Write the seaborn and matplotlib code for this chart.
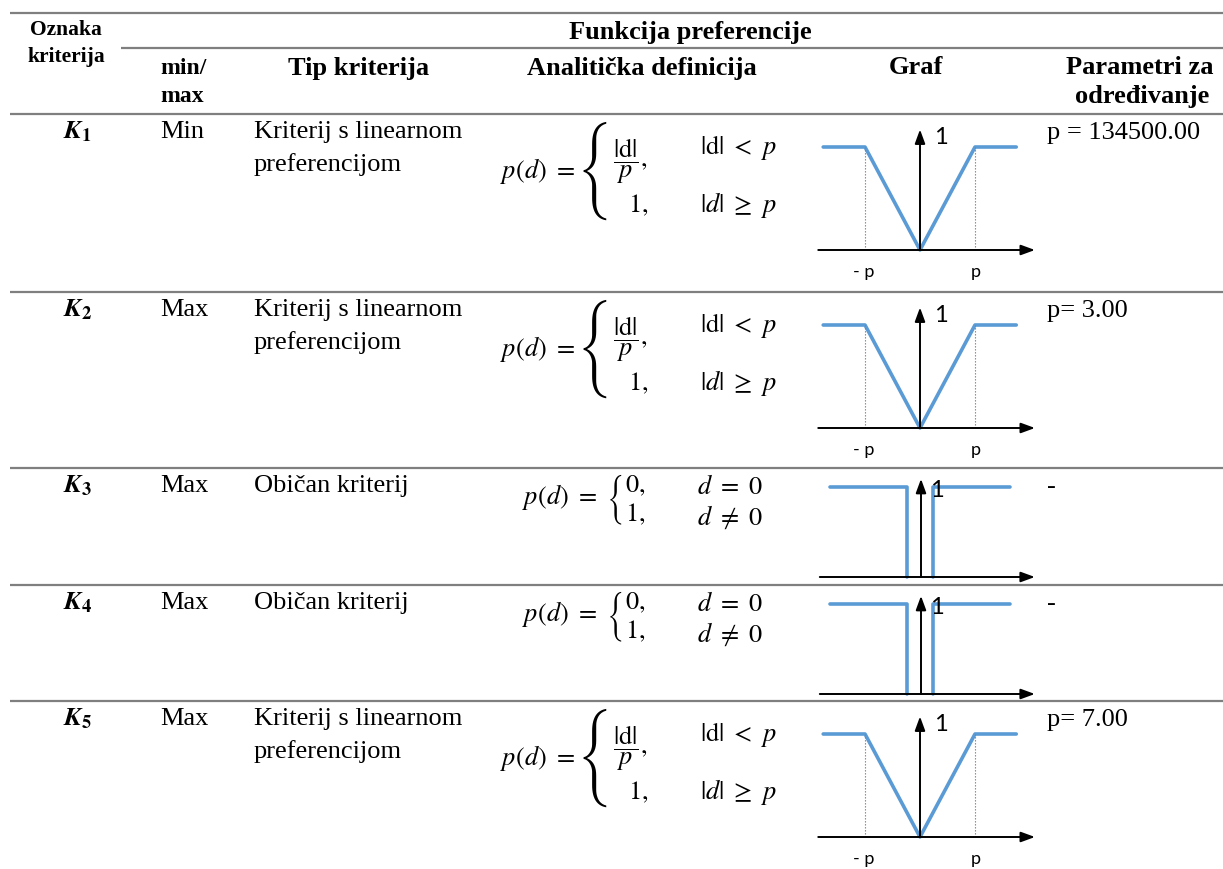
import matplotlib
matplotlib.use('Agg')
import matplotlib.pyplot as plt
import seaborn as sns

# table content
k_labels = ['1', '2', '3', '4', '5']
min_max = ['Min', 'Max', 'Max', 'Max', 'Max']
tip_lines = [['Kriterij s linearnom', 'preferencijom'],
             ['Kriterij s linearnom', 'preferencijom'],
             ['Običan kriterij'],
             ['Običan kriterij'],
             ['Kriterij s linearnom', 'preferencijom']]
kinds = ['linear', 'linear', 'usual', 'usual', 'linear']
params = ['p = 134500.00', 'p= 3.00', '-', '-', 'p= 7.00']

# shapes of the preference functions (graph units, p = 1)
lin_x = [-1.76, -1.0, 0.0, 1.0, 1.75]
lin_y = [1, 1, 0, 1, 1]
step_left_x = [-1.65, -0.25, -0.25]
step_left_y = [1, 1, 0]
step_right_x = [0.22, 0.22, 1.62]
step_right_y = [0, 1, 1]

sns.set_style('white')
plt.rcParams['font.family'] = ['Liberation Serif', 'DejaVu Serif']
plt.rcParams['mathtext.fontset'] = 'stix'
plt.rcParams['text.color'] = 'black'

W, H = 1223, 870
fig = plt.figure(figsize=(W / 100, H / 100), dpi=100)
ax = fig.add_axes([0, 0, 1, 1])
ax.set_xlim(0, W)
ax.set_ylim(H, 0)
ax.axis('off')

GRID = '#7f7f7f'
BLUE = '#5B9BD5'
row_tops = [115, 293, 469, 586, 702]

ax.hlines([14] + row_tops, 10, W, color=GRID, lw=1.6)
ax.hlines(49, 121, W, color=GRID, lw=1.6)


def put(x, y, s, size=19, ha='left', weight='normal', **kw):
    ax.text(x, y, s, fontsize=size, ha=ha, va='center', fontweight=weight, **kw)


# header
put(66, 30, 'Oznaka', 15.5, 'center', 'bold')
put(66, 57, 'kriterija', 15.5, 'center', 'bold')
put(690, 32, 'Funkcija preferencije', 19, 'center', 'bold')
put(160, 68, 'min/', 17, 'left', 'bold')
put(160, 97, 'max', 17, 'left', 'bold')
put(359, 68, 'Tip kriterija', 19, 'center', 'bold')
put(642, 68, 'Analitička definicija', 19, 'center', 'bold')
put(916, 68, 'Graf', 19, 'center', 'bold')
put(1140, 68, 'Parametri za', 19, 'center', 'bold')
put(1142, 97, 'određivanje', 19, 'center', 'bold')


def graf(top, kind):
    if kind == 'linear':
        cx, axis_y, uy, ytop = 920, top + 136, 103, 1.17
    else:
        cx, axis_y, uy, ytop = 921, top + 109, 90, 1.09
    left, right, above, below = 800, 1050, 130, 35
    g = fig.add_axes([left / W, 1 - (axis_y + below) / H,
                      (right - left) / W, (above + below) / H])
    if kind == 'linear':
        sns.lineplot(x=lin_x, y=lin_y, ax=g, color=BLUE, lw=2.6,
                     sort=False, estimator=None)
        g.vlines([-1, 1], 0, 1, colors=GRID, linestyles=(0, (1.2, 1.5)), lw=0.8)
        g.text(-1.03, -0.2, '- p', fontsize=13, family='Lato', ha='center', va='center')
        g.text(1.02, -0.2, 'p', fontsize=13, family='Lato', ha='center', va='center')
        g.text(0.25, 1.1, '1', fontsize=17, family='Lato', ha='left', va='center')
        xa, xb = -1.85, 2.09
    else:
        sns.lineplot(x=step_left_x, y=step_left_y, ax=g, color=BLUE, lw=2.6,
                     sort=False, estimator=None)
        sns.lineplot(x=step_right_x, y=step_right_y, ax=g, color=BLUE, lw=2.6,
                     sort=False, estimator=None)
        g.text(0.16, 0.97, '1', fontsize=17, family='Lato', ha='left', va='center')
        xa, xb = -1.84, 2.07
    arrow = dict(arrowstyle='-|>,head_length=0.6,head_width=0.22', color='black',
                 lw=1.4, mutation_scale=14, shrinkA=0, shrinkB=0)
    g.annotate('', xy=(xb, 0), xytext=(xa, 0), arrowprops=arrow)
    g.annotate('', xy=(0, ytop), xytext=(0, 0), arrowprops=arrow)
    g.set_xlim((left - cx) / 55, (right - cx) / 55)
    g.set_ylim(-below / uy, above / uy)
    g.axis('off')


for i, top in enumerate(row_tops):
    put(63, top + 17, r'$\mathbfit{K}_{\mathbf{' + k_labels[i] + '}}$', 19)
    put(160, top + 17, min_max[i], 19)
    for j, line in enumerate(tip_lines[i]):
        put(254, top + 17 + 33 * j, line, 19)
    put(1047, top + 18, params[i], 19)
    if kinds[i] == 'linear':
        put(500, top + 56, r'$p(d)\ =$', 19)
        put(595, top + 56, '{', 23, 'center', family='STIXSizeFourSym')
        put(613, top + 46, r'$\dfrac{|\mathrm{d}|}{p},$', 19)
        put(628, top + 90, r'$1,$', 19)
        put(700, top + 33, r'$|\mathrm{d}|\ <\ p$', 19)
        put(700, top + 90, r'$|d|\ \geq\ p$', 19)
    else:
        put(522, top + 31, r'$p(d)\ =\ \left\{\genfrac{}{}{0}{0}{0,}{1,}\right.$', 19)
        put(697, top + 18, r'$d\ =\ 0$', 19)
        put(697, top + 48, r'$d\ \neq\ 0$', 19)
    graf(top, kinds[i])

fig.savefig('out.png', dpi=100)
